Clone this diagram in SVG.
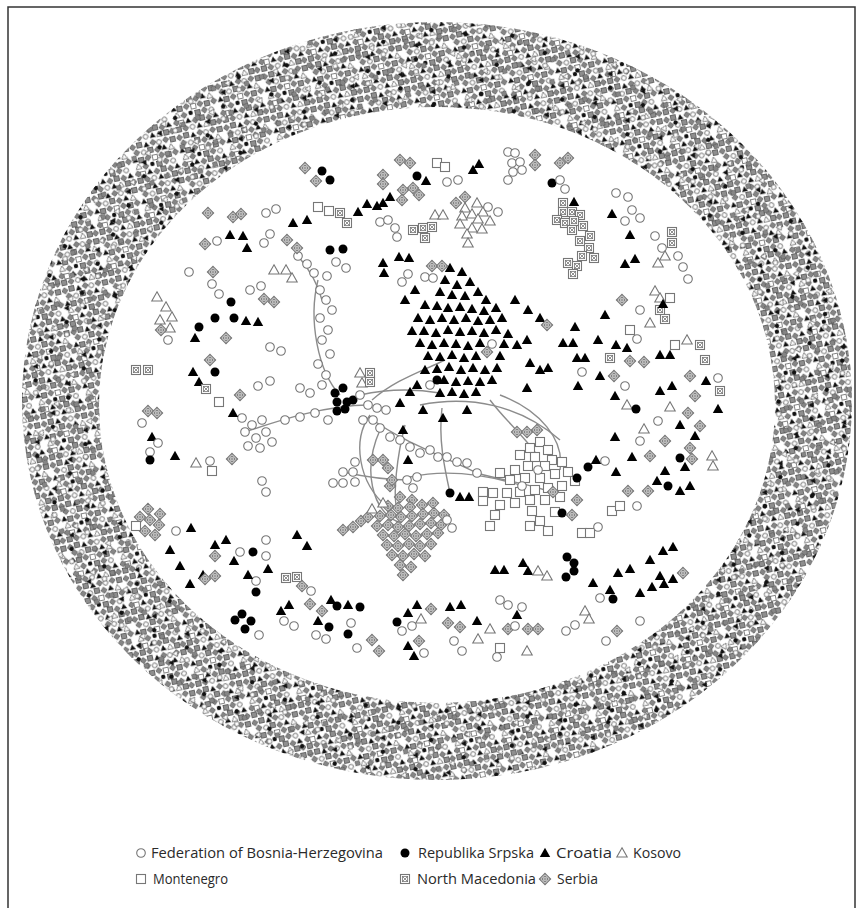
<svg xmlns="http://www.w3.org/2000/svg" xmlns:xlink="http://www.w3.org/1999/xlink" width="862" height="908" viewBox="0 0 862 908">
<style>
.k{fill:#fff;stroke:#777;stroke-width:1.1}
.ln{fill:none;stroke:#8c8c8c;stroke-width:1.4}
.lg{font-family:"Open Sans","Noto Sans","Liberation Sans",sans-serif;font-size:15px;fill:#2a2a2a}
</style>
<defs>
<g id="c"><circle r="4.3" class="k"/></g>
<g id="b"><circle r="4.5" fill="#000"/></g>
<g id="t"><path d="M0-5.2L5.2 4H-5.2Z" fill="#000"/></g>
<g id="w"><path d="M0-5.2L5.2 4H-5.2Z" class="k"/></g>
<g id="s"><rect x="-4.5" y="-4.5" width="9" height="9" class="k"/></g>
<g id="m"><rect x="-4.5" y="-4.5" width="9" height="9" class="k"/><rect x="-2.6" y="-2.6" width="5.2" height="5.2" fill="none" stroke="#777" stroke-width=".8"/><path d="M-2.6-2.6L2.6 2.6M2.6-2.6L-2.6 2.6" stroke="#777" stroke-width=".8"/></g>
<g id="d"><path d="M0-5.6L5.6 0 0 5.6-5.6 0Z" class="k"/><circle r="2.6" fill="none" stroke="#777" stroke-width=".9"/><path d="M0-5.6V5.6M-5.6 0H5.6" stroke="#777" stroke-width=".9"/></g>
<circle id="rc" r="2.4" fill="#fff" stroke="#666" stroke-width=".9"/>
<circle id="rb" r="2.2" fill="#111"/>
<path id="rt" d="M0-3L3 2.3H-3Z" fill="#111"/>
<path id="rw" d="M0-3L3 2.3H-3Z" fill="#fff" stroke="#666" stroke-width=".8"/>
<rect id="rs" x="-2.5" y="-2.5" width="5" height="5" fill="#fff" stroke="#666" stroke-width=".8"/>
<rect id="rm" x="-2.5" y="-2.5" width="5" height="5" fill="#8e8e8e" stroke="#505050" stroke-width=".8"/>
<path id="rd" d="M0-3.2L3.2 0 0 3.2-3.2 0Z" fill="#858585" stroke="#4c4c4c" stroke-width=".7"/>
<pattern id="ring" width="48" height="42" patternUnits="userSpaceOnUse" patternTransform="rotate(-12)">
<use href="#rd" x="3" y="4"/><use href="#rm" x="10" y="3"/><use href="#rt" x="17" y="4"/><use href="#rd" x="24" y="3"/><use href="#rc" x="30" y="4"/><use href="#rd" x="37" y="3"/><use href="#rm" x="44" y="4"/>
<use href="#rd" x="6" y="10"/><use href="#rc" x="13" y="11"/><use href="#rm" x="20" y="10"/><use href="#rd" x="27" y="11"/><use href="#rt" x="34" y="10"/><use href="#rw" x="41" y="11"/>
<use href="#rt" x="3" y="17"/><use href="#rm" x="9" y="18"/><use href="#rd" x="16" y="17"/><use href="#rs" x="23" y="18"/><use href="#rd" x="30" y="17"/><use href="#rm" x="37" y="18"/><use href="#rd" x="44" y="17"/>
<use href="#rw" x="5" y="24"/><use href="#rd" x="12" y="25"/><use href="#rb" x="19" y="24"/><use href="#rm" x="26" y="25"/><use href="#rd" x="33" y="24"/><use href="#rc" x="40" y="25"/>
<use href="#rd" x="3" y="31"/><use href="#rs" x="8" y="32"/><use href="#rt" x="15" y="31"/><use href="#rd" x="22" y="32"/><use href="#rm" x="29" y="31"/><use href="#rd" x="36" y="32"/><use href="#rt" x="43" y="31"/>
<use href="#rm" x="4" y="38"/><use href="#rd" x="11" y="38"/><use href="#rc" x="18" y="38"/><use href="#rt" x="25" y="38"/><use href="#rw" x="32" y="38"/><use href="#rm" x="39" y="38"/><use href="#rd" x="45" y="38"/>
</pattern>
<pattern id="ring2" width="37" height="33" patternUnits="userSpaceOnUse" patternTransform="rotate(28) translate(3 5)">
<use href="#rd" x="5" y="6"/><use href="#rt" x="16" y="4"/><use href="#rb" x="22" y="17"/><use href="#rd" x="32" y="19"/><use href="#rw" x="15" y="27"/><use href="#rc" x="28" y="28"/>
</pattern>
</defs>
<rect width="862" height="908" fill="#fff"/>
<rect x="8" y="7" width="847" height="906" fill="none" stroke="#333" stroke-width="1.5"/>
<g id="outer-ring">
<path d="M22 401A415 379 0 1 0 852 401A415 379 0 1 0 22 401ZM99 405A338 298 0 1 0 775 405A338 298 0 1 0 99 405Z" fill="url(#ring)" fill-rule="evenodd"/>
<path d="M22 401A415 379 0 1 0 852 401A415 379 0 1 0 22 401ZM99 405A338 298 0 1 0 775 405A338 298 0 1 0 99 405Z" fill="url(#ring2)" fill-rule="evenodd"/>
</g>
<g id="connectors">
<path class="ln" d="M360 395Q400 386 440 393"/>
<path class="ln" d="M370 415C352 440 358 482 387 507"/>
<path class="ln" d="M442 408C438 440 445 470 450 493"/>
<path class="ln" d="M490 400C505 420 520 432 535 452"/>
<path class="ln" d="M410 477C450 468 490 476 520 485"/>
<path class="ln" d="M380 430C362 470 372 510 398 522"/>
<path class="ln" d="M405 425C396 460 394 492 396 505"/>
<path class="ln" d="M318 280C308 320 318 372 340 395"/>
<path class="ln" d="M245 432C280 420 330 404 372 405"/>
<path class="ln" d="M373 420C400 440 440 455 477 473"/>
<path class="ln" d="M343 472C370 478 390 480 410 480"/>
<path class="ln" d="M372 400C395 380 420 372 445 360"/>
<path class="ln" d="M298 256C310 270 318 285 322 300"/>
<path class="ln" d="M477 473C500 480 520 482 545 490"/>
<path class="ln" d="M420 405C470 395 520 405 560 440"/>
<path class="ln" d="M500 395C540 410 565 440 560 470"/>
</g>
<g id="croatia-cluster">
<use href="#t" x="450" y="268"/><use href="#t" x="462" y="272"/><use href="#t" x="445" y="280"/><use href="#t" x="457" y="285"/><use href="#t" x="470" y="282"/><use href="#t" x="440" y="292"/><use href="#t" x="452" y="295"/><use href="#t" x="465" y="296"/><use href="#t" x="478" y="292"/><use href="#t" x="486" y="300"/>
<use href="#t" x="425" y="305"/><use href="#t" x="437" y="306"/><use href="#t" x="448" y="308"/><use href="#t" x="460" y="307"/><use href="#t" x="472" y="309"/><use href="#t" x="484" y="311"/><use href="#t" x="496" y="308"/>
<use href="#t" x="418" y="318"/><use href="#t" x="430" y="320"/><use href="#t" x="442" y="318"/><use href="#t" x="454" y="320"/><use href="#t" x="466" y="318"/><use href="#t" x="478" y="321"/><use href="#t" x="490" y="320"/><use href="#t" x="502" y="318"/>
<use href="#t" x="412" y="331"/><use href="#t" x="424" y="331"/><use href="#t" x="436" y="333"/><use href="#t" x="448" y="330"/><use href="#t" x="460" y="332"/><use href="#t" x="472" y="331"/><use href="#t" x="484" y="333"/><use href="#t" x="496" y="330"/><use href="#t" x="508" y="334"/>
<use href="#t" x="420" y="343"/><use href="#t" x="432" y="345"/><use href="#t" x="444" y="343"/><use href="#t" x="456" y="344"/><use href="#t" x="468" y="346"/><use href="#t" x="480" y="343"/><use href="#t" x="504" y="344"/>
<use href="#t" x="428" y="356"/><use href="#t" x="440" y="357"/><use href="#t" x="452" y="355"/><use href="#t" x="464" y="358"/><use href="#t" x="476" y="356"/><use href="#t" x="500" y="356"/>
<use href="#t" x="437" y="369"/><use href="#t" x="449" y="367"/><use href="#t" x="461" y="370"/><use href="#t" x="473" y="368"/><use href="#t" x="485" y="370"/><use href="#t" x="497" y="368"/>
<use href="#t" x="444" y="380"/><use href="#t" x="456" y="382"/><use href="#t" x="468" y="381"/><use href="#t" x="480" y="382"/><use href="#t" x="492" y="380"/>
<use href="#t" x="440" y="393"/><use href="#t" x="452" y="392"/><use href="#t" x="464" y="394"/><use href="#t" x="476" y="392"/>
<use href="#t" x="517" y="345"/><use href="#t" x="527" y="340"/><use href="#t" x="530" y="363"/><use href="#t" x="540" y="370"/><use href="#t" x="548" y="368"/><use href="#t" x="527" y="388"/><use href="#t" x="515" y="300"/><use href="#t" x="528" y="310"/><use href="#t" x="540" y="318"/>
<use href="#t" x="400" y="403"/><use href="#t" x="410" y="392"/><use href="#t" x="417" y="385"/><use href="#t" x="425" y="370"/><use href="#t" x="423" y="410"/><use href="#t" x="443" y="418"/><use href="#t" x="467" y="410"/><use href="#t" x="403" y="430"/><use href="#t" x="408" y="460"/>
<use href="#t" x="399" y="257"/><use href="#t" x="409" y="258"/><use href="#t" x="383" y="263"/><use href="#t" x="384" y="273"/><use href="#t" x="415" y="290"/><use href="#t" x="405" y="300"/>
<use href="#d" x="487" y="352"/><use href="#c" x="492" y="344"/><use href="#c" x="430" y="385"/><use href="#b" x="437" y="380"/>
</g>
<g id="serbia-cluster">
<use href="#d" x="400" y="497"/><use href="#d" x="412" y="500"/>
<use href="#d" x="388" y="506"/><use href="#d" x="398" y="508"/><use href="#d" x="410" y="507"/><use href="#d" x="422" y="505"/><use href="#d" x="433" y="503"/>
<use href="#d" x="380" y="516"/><use href="#d" x="391" y="515"/><use href="#d" x="401" y="517"/><use href="#d" x="412" y="516"/><use href="#d" x="423" y="514"/><use href="#d" x="434" y="513"/><use href="#d" x="444" y="515"/>
<use href="#d" x="377" y="526"/><use href="#d" x="388" y="525"/><use href="#d" x="398" y="527"/><use href="#d" x="409" y="526"/><use href="#d" x="420" y="524"/><use href="#d" x="431" y="523"/><use href="#d" x="441" y="525"/>
<use href="#d" x="383" y="535"/><use href="#d" x="394" y="536"/><use href="#d" x="405" y="534"/><use href="#d" x="416" y="536"/><use href="#d" x="427" y="534"/><use href="#d" x="438" y="533"/>
<use href="#d" x="387" y="545"/><use href="#d" x="398" y="546"/><use href="#d" x="409" y="544"/><use href="#d" x="420" y="546"/><use href="#d" x="431" y="544"/>
<use href="#d" x="392" y="555"/><use href="#d" x="403" y="556"/><use href="#d" x="414" y="554"/><use href="#d" x="425" y="556"/>
<use href="#d" x="400" y="565"/><use href="#d" x="411" y="567"/><use href="#d" x="403" y="575"/>
<use href="#d" x="343" y="530"/><use href="#d" x="353" y="527"/><use href="#d" x="361" y="521"/><use href="#d" x="368" y="517"/><use href="#d" x="390" y="486"/>
<use href="#w" x="383" y="503"/><use href="#w" x="372" y="509"/><use href="#c" x="447" y="520"/><use href="#c" x="452" y="528"/>
</g>
<g id="montenegro-cluster">
<use href="#s" x="540" y="442"/><use href="#s" x="548" y="450"/><use href="#s" x="530" y="448"/><use href="#s" x="520" y="455"/><use href="#s" x="535" y="457"/><use href="#s" x="552" y="460"/><use href="#s" x="562" y="462"/><use href="#s" x="545" y="466"/><use href="#s" x="528" y="466"/><use href="#s" x="515" y="470"/><use href="#s" x="500" y="473"/><use href="#s" x="510" y="480"/><use href="#s" x="525" y="478"/><use href="#s" x="540" y="478"/><use href="#s" x="555" y="474"/><use href="#s" x="568" y="472"/><use href="#s" x="575" y="481"/><use href="#s" x="562" y="486"/><use href="#s" x="548" y="488"/><use href="#s" x="535" y="490"/><use href="#s" x="520" y="492"/><use href="#s" x="507" y="493"/><use href="#s" x="493" y="493"/><use href="#s" x="483" y="492"/><use href="#s" x="483" y="501"/><use href="#s" x="500" y="505"/><use href="#s" x="515" y="503"/><use href="#s" x="530" y="500"/><use href="#s" x="545" y="500"/><use href="#s" x="560" y="497"/><use href="#s" x="495" y="515"/><use href="#s" x="490" y="526"/><use href="#s" x="532" y="511"/><use href="#s" x="540" y="521"/><use href="#s" x="548" y="531"/><use href="#s" x="530" y="526"/><use href="#s" x="555" y="512"/>
<use href="#c" x="522" y="486"/><use href="#c" x="538" y="470"/><use href="#d" x="553" y="492"/>
<use href="#b" x="450" y="493"/><use href="#t" x="460" y="497"/><use href="#t" x="469" y="497"/>
<use href="#d" x="517" y="432"/><use href="#d" x="527" y="432"/><use href="#d" x="537" y="430"/>
<use href="#b" x="577" y="478"/><use href="#b" x="562" y="513"/><use href="#d" x="577" y="500"/><use href="#d" x="572" y="515"/><use href="#s" x="582" y="533"/><use href="#s" x="590" y="533"/>
</g>
<g id="center-fbih">
<use href="#b" x="335" y="393"/><use href="#b" x="343" y="388"/><use href="#b" x="337" y="402"/><use href="#b" x="347" y="402"/><use href="#b" x="353" y="400"/><use href="#b" x="345" y="409"/><use href="#b" x="337" y="411"/>
<use href="#c" x="320" y="290"/><use href="#c" x="326" y="300"/><use href="#c" x="332" y="310"/><use href="#c" x="320" y="318"/><use href="#c" x="328" y="330"/><use href="#c" x="322" y="340"/><use href="#c" x="330" y="354"/><use href="#c" x="318" y="364"/><use href="#c" x="326" y="375"/><use href="#c" x="322" y="385"/>
<use href="#c" x="298" y="256"/><use href="#c" x="307" y="264"/><use href="#c" x="314" y="273"/>
<use href="#w" x="360" y="373"/><use href="#w" x="362" y="383"/><use href="#m" x="370" y="373"/><use href="#m" x="370" y="382"/>
<use href="#c" x="360" y="395"/><use href="#c" x="368" y="405"/><use href="#c" x="377" y="408"/><use href="#c" x="386" y="410"/><use href="#c" x="363" y="420"/><use href="#c" x="373" y="420"/>
<use href="#c" x="380" y="428"/><use href="#c" x="390" y="437"/><use href="#c" x="400" y="440"/><use href="#c" x="410" y="447"/><use href="#c" x="420" y="453"/><use href="#c" x="430" y="450"/><use href="#c" x="438" y="457"/><use href="#c" x="447" y="457"/><use href="#c" x="457" y="462"/><use href="#c" x="467" y="463"/><use href="#c" x="477" y="473"/>
<use href="#d" x="373" y="460"/><use href="#d" x="383" y="460"/><use href="#d" x="388" y="468"/><use href="#d" x="392" y="480"/>
<use href="#c" x="343" y="472"/><use href="#c" x="353" y="472"/><use href="#c" x="355" y="462"/><use href="#c" x="343" y="483"/><use href="#c" x="333" y="483"/><use href="#c" x="355" y="482"/>
<use href="#c" x="407" y="480"/><use href="#c" x="417" y="477"/><use href="#c" x="413" y="488"/>
<use href="#c" x="285" y="420"/><use href="#c" x="300" y="417"/><use href="#c" x="315" y="413"/><use href="#c" x="328" y="420"/>
<use href="#c" x="242" y="418"/><use href="#c" x="252" y="425"/><use href="#c" x="262" y="420"/><use href="#c" x="245" y="432"/><use href="#c" x="256" y="438"/><use href="#c" x="266" y="432"/><use href="#c" x="248" y="446"/><use href="#c" x="260" y="448"/><use href="#c" x="272" y="442"/>
</g>
<g id="upper-nodes">
<use href="#d" x="305" y="168"/><use href="#b" x="322" y="171"/><use href="#b" x="330" y="180"/><use href="#d" x="316" y="181"/>
<use href="#d" x="400" y="160"/><use href="#d" x="410" y="163"/><use href="#s" x="437" y="163"/><use href="#s" x="445" y="167"/><use href="#c" x="447" y="182"/><use href="#c" x="458" y="180"/><use href="#t" x="473" y="170"/><use href="#t" x="479" y="164"/>
<use href="#b" x="417" y="176"/><use href="#t" x="426" y="181"/><use href="#d" x="383" y="175"/><use href="#d" x="383" y="184"/><use href="#d" x="403" y="190"/><use href="#d" x="413" y="188"/><use href="#d" x="419" y="195"/><use href="#d" x="402" y="200"/><use href="#t" x="383" y="203"/><use href="#t" x="390" y="197"/>
<use href="#c" x="380" y="222"/><use href="#c" x="388" y="220"/><use href="#c" x="395" y="228"/><use href="#c" x="397" y="237"/>
<use href="#c" x="508" y="152"/><use href="#c" x="515" y="153"/><use href="#c" x="512" y="163"/><use href="#c" x="520" y="162"/><use href="#c" x="513" y="172"/><use href="#c" x="522" y="170"/><use href="#c" x="508" y="180"/>
<use href="#d" x="535" y="155"/><use href="#d" x="535" y="165"/><use href="#d" x="560" y="163"/><use href="#d" x="568" y="158"/><use href="#b" x="552" y="183"/><use href="#c" x="560" y="180"/><use href="#c" x="565" y="189"/>
<use href="#d" x="465" y="197"/><use href="#d" x="456" y="203"/><use href="#w" x="477" y="203"/><use href="#w" x="465" y="208"/><use href="#w" x="472" y="214"/><use href="#w" x="483" y="212"/><use href="#w" x="462" y="216"/><use href="#w" x="478" y="219"/><use href="#w" x="490" y="221"/><use href="#w" x="460" y="224"/><use href="#w" x="472" y="228"/><use href="#w" x="482" y="229"/><use href="#w" x="467" y="234"/><use href="#w" x="468" y="243"/><use href="#c" x="488" y="207"/><use href="#c" x="498" y="212"/><use href="#w" x="435" y="215"/><use href="#w" x="443" y="215"/>
<use href="#m" x="413" y="230"/><use href="#m" x="423" y="228"/><use href="#m" x="432" y="227"/><use href="#m" x="425" y="238"/>
<use href="#d" x="432" y="266"/><use href="#d" x="442" y="266"/><use href="#c" x="408" y="274"/><use href="#c" x="402" y="282"/><use href="#c" x="425" y="277"/><use href="#c" x="433" y="278"/>
<use href="#t" x="358" y="212"/><use href="#t" x="367" y="204"/><use href="#t" x="377" y="206"/>
<use href="#s" x="318" y="207"/><use href="#s" x="329" y="211"/><use href="#m" x="340" y="213"/><use href="#m" x="347" y="223"/>
</g>
<g id="macedonia-cluster">
<use href="#m" x="563" y="203"/><use href="#t" x="574" y="202"/><use href="#m" x="563" y="212"/><use href="#m" x="572" y="212"/><use href="#m" x="580" y="215"/><use href="#m" x="557" y="220"/><use href="#m" x="565" y="223"/><use href="#m" x="574" y="221"/><use href="#m" x="572" y="230"/><use href="#m" x="583" y="226"/><use href="#m" x="590" y="236"/><use href="#m" x="580" y="241"/><use href="#m" x="589" y="248"/><use href="#m" x="582" y="256"/><use href="#m" x="594" y="258"/><use href="#m" x="568" y="263"/><use href="#m" x="577" y="266"/><use href="#m" x="573" y="274"/>
</g>
<g id="left-nodes">
<use href="#d" x="208" y="213"/><use href="#d" x="233" y="217"/><use href="#d" x="241" y="214"/><use href="#c" x="266" y="213"/><use href="#c" x="276" y="209"/>
<use href="#t" x="230" y="235"/><use href="#t" x="243" y="236"/><use href="#d" x="205" y="244"/><use href="#c" x="217" y="241"/><use href="#t" x="247" y="248"/>
<use href="#c" x="270" y="234"/><use href="#c" x="264" y="243"/><use href="#d" x="287" y="240"/><use href="#d" x="297" y="248"/><use href="#t" x="293" y="223"/><use href="#t" x="307" y="220"/>
<use href="#b" x="330" y="250"/><use href="#b" x="343" y="249"/><use href="#c" x="336" y="262"/><use href="#c" x="346" y="268"/><use href="#c" x="327" y="276"/>
<use href="#w" x="274" y="270"/><use href="#w" x="286" y="270"/><use href="#w" x="292" y="278"/>
<use href="#c" x="189" y="272"/><use href="#d" x="213" y="272"/><use href="#c" x="212" y="284"/><use href="#c" x="219" y="294"/>
<use href="#w" x="157" y="297"/><use href="#w" x="166" y="307"/><use href="#w" x="172" y="317"/><use href="#w" x="160" y="320"/><use href="#w" x="170" y="328"/><use href="#d" x="161" y="330"/><use href="#c" x="168" y="340"/>
<use href="#b" x="231" y="302"/><use href="#b" x="215" y="318"/><use href="#b" x="234" y="318"/><use href="#t" x="246" y="321"/><use href="#t" x="258" y="322"/>
<use href="#c" x="250" y="290"/><use href="#c" x="261" y="286"/><use href="#d" x="264" y="299"/><use href="#d" x="274" y="302"/>
<use href="#t" x="195" y="338"/><use href="#b" x="199" y="327"/><use href="#d" x="226" y="338"/><use href="#c" x="270" y="347"/><use href="#c" x="281" y="351"/>
<use href="#m" x="136" y="370"/><use href="#m" x="148" y="370"/><use href="#t" x="193" y="372"/><use href="#t" x="199" y="382"/><use href="#b" x="215" y="372"/><use href="#d" x="210" y="360"/><use href="#m" x="206" y="389"/>
<use href="#d" x="148" y="411"/><use href="#d" x="157" y="413"/><use href="#c" x="142" y="423"/><use href="#t" x="152" y="437"/><use href="#s" x="219" y="402"/><use href="#d" x="240" y="395"/><use href="#t" x="233" y="413"/>
<use href="#c" x="158" y="443"/><use href="#c" x="150" y="452"/><use href="#b" x="150" y="460"/><use href="#t" x="175" y="456"/><use href="#w" x="196" y="463"/><use href="#c" x="210" y="461"/><use href="#s" x="212" y="471"/><use href="#d" x="232" y="459"/>
<use href="#c" x="258" y="386"/><use href="#c" x="270" y="381"/><use href="#c" x="300" y="388"/><use href="#c" x="310" y="393"/>
<use href="#d" x="140" y="517"/><use href="#d" x="150" y="520"/><use href="#d" x="159" y="525"/><use href="#d" x="145" y="531"/><use href="#d" x="155" y="535"/><use href="#d" x="148" y="509"/><use href="#d" x="160" y="514"/><use href="#s" x="136" y="526"/>
<use href="#t" x="170" y="550"/><use href="#t" x="191" y="528"/><use href="#c" x="176" y="531"/>
<use href="#t" x="215" y="545"/><use href="#t" x="226" y="540"/><use href="#d" x="215" y="556"/><use href="#c" x="240" y="552"/><use href="#b" x="253" y="552"/>
<use href="#t" x="180" y="566"/><use href="#t" x="203" y="575"/><use href="#d" x="215" y="576"/><use href="#d" x="205" y="579"/><use href="#t" x="190" y="584"/>
<use href="#t" x="234" y="561"/><use href="#c" x="256" y="581"/><use href="#t" x="248" y="575"/><use href="#b" x="256" y="592"/>
<use href="#b" x="242" y="614"/><use href="#b" x="251" y="621"/><use href="#b" x="245" y="629"/><use href="#c" x="259" y="635"/><use href="#b" x="235" y="620"/>
<use href="#c" x="262" y="481"/><use href="#c" x="266" y="492"/><use href="#c" x="266" y="540"/><use href="#c" x="266" y="556"/>
</g>
<g id="bottom-nodes">
<use href="#t" x="297" y="535"/><use href="#t" x="307" y="546"/><use href="#t" x="268" y="569"/>
<use href="#m" x="286" y="578"/><use href="#m" x="297" y="577"/><use href="#d" x="302" y="586"/><use href="#c" x="311" y="591"/>
<use href="#t" x="289" y="605"/><use href="#t" x="281" y="611"/><use href="#c" x="284" y="621"/><use href="#c" x="294" y="626"/><use href="#d" x="310" y="604"/><use href="#d" x="322" y="611"/><use href="#t" x="331" y="600"/>
<use href="#b" x="337" y="606"/><use href="#t" x="348" y="605"/><use href="#b" x="360" y="607"/><use href="#t" x="318" y="621"/><use href="#b" x="329" y="627"/><use href="#c" x="316" y="635"/><use href="#c" x="326" y="639"/><use href="#b" x="348" y="634"/><use href="#c" x="351" y="623"/><use href="#d" x="372" y="640"/><use href="#d" x="379" y="651"/><use href="#c" x="357" y="648"/>
<use href="#t" x="417" y="605"/><use href="#t" x="408" y="613"/><use href="#w" x="421" y="619"/><use href="#d" x="431" y="609"/><use href="#c" x="412" y="626"/><use href="#c" x="402" y="631"/><use href="#t" x="408" y="646"/><use href="#d" x="419" y="641"/><use href="#c" x="424" y="653"/><use href="#t" x="414" y="656"/><use href="#b" x="397" y="622"/>
<use href="#d" x="448" y="623"/><use href="#d" x="460" y="627"/><use href="#t" x="450" y="607"/><use href="#t" x="461" y="605"/><use href="#t" x="477" y="621"/><use href="#c" x="454" y="641"/><use href="#c" x="462" y="651"/><use href="#w" x="478" y="639"/><use href="#w" x="490" y="629"/><use href="#d" x="508" y="629"/><use href="#t" x="517" y="615"/><use href="#c" x="522" y="607"/><use href="#c" x="515" y="626"/><use href="#d" x="528" y="629"/><use href="#d" x="538" y="629"/><use href="#c" x="500" y="600"/><use href="#c" x="508" y="605"/><use href="#s" x="500" y="648"/><use href="#c" x="497" y="657"/><use href="#w" x="527" y="651"/>
<use href="#t" x="495" y="570"/><use href="#t" x="504" y="570"/><use href="#t" x="523" y="563"/><use href="#t" x="528" y="571"/><use href="#w" x="538" y="571"/><use href="#w" x="547" y="576"/><use href="#b" x="567" y="557"/><use href="#b" x="574" y="563"/><use href="#b" x="574" y="571"/><use href="#b" x="566" y="577"/>
<use href="#t" x="593" y="583"/><use href="#t" x="610" y="590"/><use href="#c" x="600" y="598"/><use href="#b" x="613" y="599"/><use href="#c" x="566" y="631"/><use href="#c" x="575" y="625"/><use href="#w" x="585" y="611"/><use href="#w" x="589" y="619"/>
<use href="#t" x="618" y="573"/><use href="#t" x="630" y="569"/><use href="#t" x="650" y="560"/><use href="#t" x="663" y="551"/><use href="#t" x="673" y="547"/><use href="#t" x="660" y="576"/><use href="#t" x="673" y="579"/><use href="#d" x="683" y="573"/><use href="#t" x="640" y="593"/><use href="#c" x="640" y="621"/><use href="#c" x="606" y="641"/><use href="#d" x="617" y="631"/><use href="#t" x="652" y="587"/><use href="#t" x="664" y="584"/>
</g>
<g id="right-nodes">
<use href="#t" x="563" y="343"/><use href="#t" x="573" y="343"/><use href="#t" x="577" y="358"/><use href="#t" x="585" y="358"/><use href="#t" x="578" y="386"/><use href="#d" x="547" y="325"/><use href="#t" x="575" y="327"/>
<use href="#d" x="622" y="300"/><use href="#m" x="660" y="310"/><use href="#m" x="665" y="319"/><use href="#c" x="640" y="310"/><use href="#w" x="650" y="323"/><use href="#t" x="605" y="315"/><use href="#t" x="616" y="345"/><use href="#t" x="627" y="348"/><use href="#s" x="630" y="330"/><use href="#c" x="637" y="339"/><use href="#t" x="598" y="340"/>
<use href="#d" x="630" y="361"/><use href="#d" x="644" y="362"/><use href="#m" x="610" y="358"/><use href="#c" x="582" y="372"/><use href="#t" x="600" y="376"/><use href="#d" x="614" y="376"/><use href="#c" x="625" y="386"/><use href="#t" x="615" y="396"/><use href="#w" x="627" y="405"/><use href="#b" x="636" y="409"/>
<use href="#t" x="660" y="355"/><use href="#t" x="670" y="355"/><use href="#s" x="675" y="345"/><use href="#w" x="687" y="340"/><use href="#m" x="700" y="345"/><use href="#m" x="705" y="360"/><use href="#d" x="690" y="376"/><use href="#t" x="660" y="391"/><use href="#t" x="672" y="386"/><use href="#d" x="695" y="396"/><use href="#t" x="706" y="381"/><use href="#c" x="718" y="378"/><use href="#m" x="720" y="391"/><use href="#t" x="718" y="409"/>
<use href="#w" x="670" y="407"/><use href="#d" x="688" y="413"/><use href="#d" x="700" y="426"/><use href="#t" x="680" y="425"/><use href="#t" x="695" y="436"/><use href="#c" x="658" y="421"/><use href="#d" x="665" y="441"/><use href="#w" x="712" y="456"/><use href="#w" x="713" y="466"/><use href="#d" x="690" y="448"/><use href="#d" x="692" y="459"/><use href="#t" x="685" y="467"/><use href="#b" x="680" y="458"/>
<use href="#c" x="640" y="441"/><use href="#w" x="644" y="429"/><use href="#t" x="615" y="437"/><use href="#t" x="632" y="457"/><use href="#d" x="650" y="456"/><use href="#c" x="605" y="461"/><use href="#t" x="616" y="472"/><use href="#b" x="588" y="467"/><use href="#t" x="596" y="460"/><use href="#t" x="657" y="481"/><use href="#t" x="665" y="471"/>
<use href="#d" x="628" y="491"/><use href="#d" x="648" y="491"/><use href="#c" x="637" y="506"/><use href="#s" x="612" y="511"/><use href="#s" x="620" y="506"/><use href="#c" x="598" y="527"/><use href="#t" x="680" y="491"/><use href="#t" x="690" y="486"/><use href="#b" x="668" y="486"/>
<use href="#c" x="616" y="193"/><use href="#c" x="628" y="197"/><use href="#t" x="612" y="214"/><use href="#c" x="625" y="221"/><use href="#t" x="630" y="235"/><use href="#c" x="632" y="210"/><use href="#c" x="640" y="218"/><use href="#m" x="672" y="232"/><use href="#m" x="672" y="243"/><use href="#c" x="655" y="236"/><use href="#c" x="662" y="248"/><use href="#w" x="658" y="263"/><use href="#w" x="665" y="256"/><use href="#c" x="678" y="256"/><use href="#t" x="625" y="264"/><use href="#t" x="635" y="259"/><use href="#c" x="683" y="267"/><use href="#c" x="688" y="279"/><use href="#w" x="655" y="291"/><use href="#w" x="660" y="298"/><use href="#s" x="670" y="298"/><use href="#t" x="663" y="304"/>
</g>
<g id="legend">
<use href="#c" x="141" y="853"/><text class="lg" x="151" y="858" textLength="232" lengthAdjust="spacingAndGlyphs">Federation of Bosnia-Herzegovina</text>
<use href="#b" x="405" y="853"/><text class="lg" x="418" y="858" textLength="116" lengthAdjust="spacingAndGlyphs">Republika Srpska</text>
<use href="#t" x="545" y="853"/><text class="lg" x="556" y="858" textLength="56" lengthAdjust="spacingAndGlyphs">Croatia</text>
<use href="#w" x="622" y="853"/><text class="lg" x="633" y="858" textLength="48" lengthAdjust="spacingAndGlyphs">Kosovo</text>
<use href="#s" x="141" y="879"/><text class="lg" x="153" y="884" textLength="75" lengthAdjust="spacingAndGlyphs">Montenegro</text>
<use href="#m" x="405" y="879"/><text class="lg" x="417" y="884" textLength="119" lengthAdjust="spacingAndGlyphs">North Macedonia</text>
<use href="#d" x="545" y="879"/><text class="lg" x="557" y="884" textLength="41" lengthAdjust="spacingAndGlyphs">Serbia</text>
</g>
</svg>
